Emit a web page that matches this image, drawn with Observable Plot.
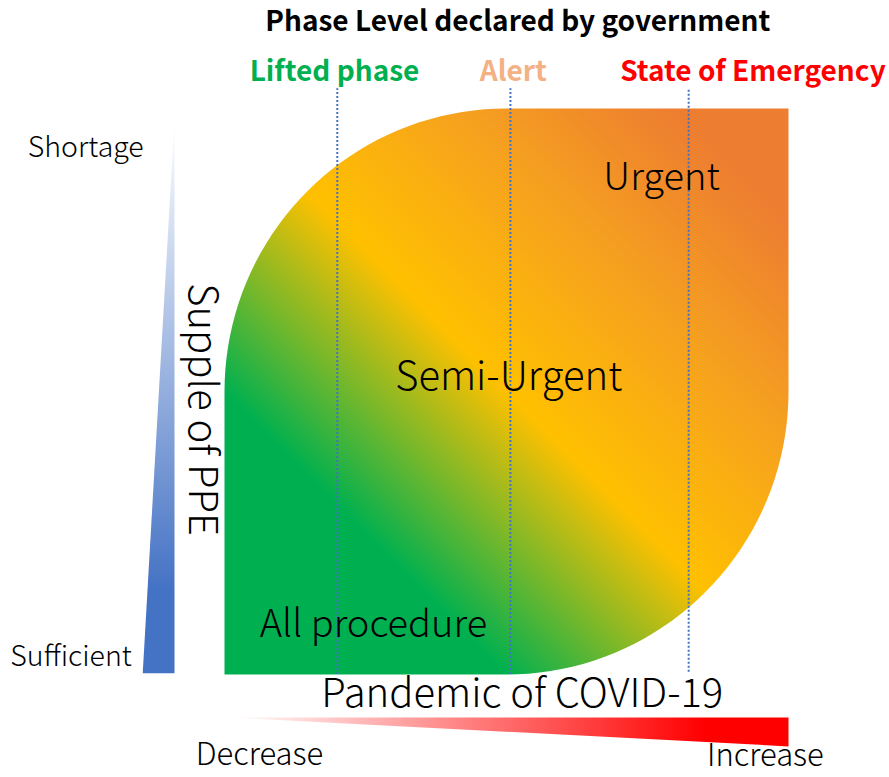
<!DOCTYPE html>
<html>
<head>
<meta charset="utf-8">
<script src="https://cdn.jsdelivr.net/npm/d3@7"></script>
<script src="https://cdn.jsdelivr.net/npm/@observablehq/plot@0.6"></script>
<style>
  html, body { margin: 0; padding: 0; background: #fff; }
  svg { display: block; }
</style>
</head>
<body>
<div id="chart"></div>
<script>
// ---- Data (diagram units: x = pandemic level 0..1, y = PPE shortage 0..1) ----
const title = "Phase Level declared by government";
const phases = ["Lifted phase", "Alert", "State of Emergency"];
const phaseLevel = [0.2, 0.507, 0.823];
const phaseLabelX = [0.195, 0.512, 0.937];
const phaseColors = ["#00B050", "#F4B183", "#FF0000"];

const zones = ["All procedure", "Semi-Urgent", "Urgent"];
const zonePandemic = [0.264, 0.504, 0.775];
const zoneShortage = [0.088, 0.525, 0.878];
const zoneSizes = [38, 40, 38];

const ppeAxisTitle = "Supple of PPE";
const ppeEnds = ["Sufficient", "Shortage"];
const pandemicAxisTitle = "Pandemic of COVID-19";
const pandemicEnds = ["Decrease", "Increase"];

// ---- Geometry ----
const R = 0.5; // corner radius of leaf shape
const leaf = [{x: 0, y: 0}, {x: 0, y: 1 - R}];
for (let i = 1; i < 40; i++) {
  const a = Math.PI - (i / 40) * (Math.PI / 2);
  leaf.push({x: R + R * Math.cos(a), y: 1 - R + R * Math.sin(a)});
}
leaf.push({x: R, y: 1}, {x: 1, y: 1}, {x: 1, y: R});
for (let i = 1; i < 40; i++) {
  const a = -(i / 40) * (Math.PI / 2);
  leaf.push({x: 1 - R + R * Math.cos(a), y: R + R * Math.sin(a)});
}
leaf.push({x: 1 - R, y: 0}, {x: 0, y: 0});

const ppeWedge = [{x: -0.0887, y: 0.979}, {x: -0.0887, y: 0.002}, {x: -0.145, y: 0.002}, {x: -0.0887, y: 0.979}];
const pandemicWedge = [{x: 0.011, y: -0.076}, {x: 1, y: -0.076}, {x: 1, y: -0.127}, {x: 0.011, y: -0.076}];

const phaseRows = phases.map((p, i) => ({name: p, level: phaseLevel[i], lx: phaseLabelX[i], color: phaseColors[i], top: 1.035, bottom: i === 2 ? 0.004 : 0}));
const zoneRows = zones.map((z, i) => ({name: z, x: zonePandemic[i], y: zoneShortage[i], size: zoneSizes[i]}));

const regular = "'Noto Sans CJK JP', 'Noto Sans', sans-serif";
const bold = "'Liberation Sans Narrow', 'Noto Sans CJK JP', sans-serif";

const svg = Plot.plot({
  width: 889,
  height: 777,
  margin: 0,
  x: {domain: [0, 1], range: [224, 788], axis: null},
  y: {domain: [0, 1], range: [674, 108], axis: null},
  marks: [
    Plot.line(leaf, {x: "x", y: "y", fill: "url(#leafGrad)", stroke: "none", curve: "linear"}),
    Plot.line(ppeWedge, {x: "x", y: "y", fill: "url(#ppeGrad)", stroke: "none"}),
    Plot.line(pandemicWedge, {x: "x", y: "y", fill: "url(#pandGrad)", stroke: "none"}),
    Plot.ruleX(phaseRows, {x: "level", y1: "bottom", y2: "top", stroke: "#4472C4", strokeWidth: 2, strokeDasharray: "2,2"}),
    Plot.text(phaseRows, {x: "lx", y: 1.064, text: "name", fill: "color", fontSize: 28, fontWeight: "bold", fontFamily: bold}),
    Plot.text([title], {x: 0.52, y: 1.152, text: d => d, fontSize: 28, fontWeight: "bold", fontFamily: bold, fill: "black"}),
    ...zoneRows.map(z => Plot.text([z], {x: "x", y: "y", text: "name", fontSize: z.size, fontWeight: 300, fontFamily: regular, fill: "black"})),
    Plot.text([ppeAxisTitle], {x: -0.041, y: 0.468, text: d => d, rotate: 90, fontSize: 40, fontWeight: 300, fontFamily: regular, fill: "black"}),
    Plot.text(ppeEnds, {x: [-0.272, -0.246], y: [0.032, 0.931], text: d => d, fontSize: 28.5, fontWeight: 300, fontFamily: regular, fill: "black"}),
    Plot.text([pandemicAxisTitle], {x: 0.528, y: -0.035, text: d => d, fontSize: 40, fontWeight: 300, fontFamily: regular, fill: "black"}),
    Plot.text(pandemicEnds, {x: [0.062, 0.959], y: [-0.143, -0.145], text: d => d, fontSize: 31, fontWeight: 300, fontFamily: regular, fill: "black"})
  ]
});

const defs = d3.select(svg).insert("defs", ":first-child");
function grad(id, x1, y1, x2, y2, stops) {
  const g = defs.append("linearGradient").attr("id", id)
    .attr("x1", x1).attr("y1", y1).attr("x2", x2).attr("y2", y2);
  stops.forEach(([o, c]) => g.append("stop").attr("offset", o).attr("stop-color", c));
}
grad("leafGrad", 0, 1, 1, 0, [[0, "#00B050"], [0.25, "#00B050"], [0.5, "#FFC000"], [0.7, "#F6A21E"], [0.9, "#ED7D31"], [1, "#ED7D31"]]);
grad("ppeGrad", 0, 0, 0, 1, [[0, "#FFFFFF"], [0.85, "#4472C4"], [1, "#4472C4"]]);
grad("pandGrad", 0, 0, 1, 0, [[0, "#FFFFFF"], [0.85, "#FF0000"], [1, "#FF0000"]]);

document.getElementById("chart").append(svg);
</script>
</body>
</html>
